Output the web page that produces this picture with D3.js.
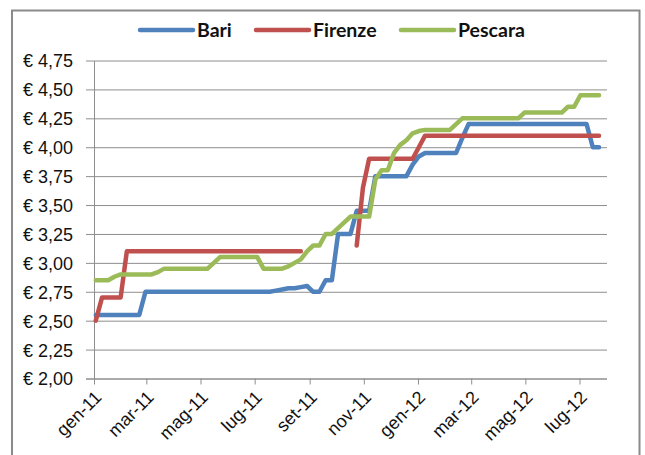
<!DOCTYPE html>
<html>
<head>
<meta charset="utf-8">
<script src="https://cdn.jsdelivr.net/npm/d3@7"></script>
<style>
  html, body { margin: 0; padding: 0; background: #fff; }
  svg { display: block; font-family: Lato, "Liberation Sans", sans-serif; }
</style>
</head>
<body>
<svg id="chart" width="645" height="455"></svg>
<script>
// Weekly fuel prices (€/litre), one reading per week from 3 Jan 2011
const firstWeek = new Date(2011, 0, 3);
const weekCount = 82;
const weeks = d3.range(weekCount).map(i => d3.timeDay.offset(firstWeek, 7 * i));

const bari = [
  2.55, 2.55, 2.55, 2.55, 2.55, 2.55, 2.55, 2.55, 2.75, 2.75,
  2.75, 2.75, 2.75, 2.75, 2.75, 2.75, 2.75, 2.75, 2.75, 2.75,
  2.75, 2.75, 2.75, 2.75, 2.75, 2.75, 2.75, 2.75, 2.75, 2.76,
  2.77, 2.78, 2.78, 2.79, 2.80, 2.75, 2.75, 2.85, 2.85, 3.25,
  3.25, 3.25, 3.45, 3.45, 3.45, 3.75, 3.75, 3.75, 3.75, 3.75,
  3.75, 3.85, 3.92, 3.95, 3.95, 3.95, 3.95, 3.95, 3.95, 4.08,
  4.20, 4.20, 4.20, 4.20, 4.20, 4.20, 4.20, 4.20, 4.20, 4.20,
  4.20, 4.20, 4.20, 4.20, 4.20, 4.20, 4.20, 4.20, 4.20, 4.20,
  4.00, 4.00
];

// Firenze has no readings from mid-August to late October 2011
const firenze = [
  2.50, 2.70, 2.70, 2.70, 2.70, 3.10, 3.10, 3.10, 3.10, 3.10,
  3.10, 3.10, 3.10, 3.10, 3.10, 3.10, 3.10, 3.10, 3.10, 3.10,
  3.10, 3.10, 3.10, 3.10, 3.10, 3.10, 3.10, 3.10, 3.10, 3.10,
  3.10, 3.10, 3.10, 3.10, null, null, null, null, null, null,
  null, null, 3.15, 3.65, 3.90, 3.90, 3.90, 3.90, 3.90, 3.90,
  3.90, 3.90, 4.00, 4.10, 4.10, 4.10, 4.10, 4.10, 4.10, 4.10,
  4.10, 4.10, 4.10, 4.10, 4.10, 4.10, 4.10, 4.10, 4.10, 4.10,
  4.10, 4.10, 4.10, 4.10, 4.10, 4.10, 4.10, 4.10, 4.10, 4.10,
  4.10, 4.10
];

const pescara = [
  2.85, 2.85, 2.85, 2.88, 2.90, 2.90, 2.90, 2.90, 2.90, 2.90,
  2.92, 2.95, 2.95, 2.95, 2.95, 2.95, 2.95, 2.95, 2.95, 3.00,
  3.05, 3.05, 3.05, 3.05, 3.05, 3.05, 3.05, 2.95, 2.95, 2.95,
  2.95, 2.97, 3.00, 3.03, 3.10, 3.15, 3.15, 3.25, 3.25, 3.30,
  3.35, 3.40, 3.40, 3.40, 3.40, 3.72, 3.80, 3.80, 3.95, 4.02,
  4.06, 4.12, 4.14, 4.15, 4.15, 4.15, 4.15, 4.15, 4.20, 4.25,
  4.25, 4.25, 4.25, 4.25, 4.25, 4.25, 4.25, 4.25, 4.25, 4.30,
  4.30, 4.30, 4.30, 4.30, 4.30, 4.30, 4.35, 4.35, 4.45, 4.45,
  4.45, 4.45
];

const seriesNames = ["Bari", "Firenze", "Pescara"];
const seriesColors = ["#4F81BD", "#C0504D", "#9BBB59"];

const priceTicks = [2.00, 2.25, 2.50, 2.75, 3.00, 3.25, 3.50, 3.75, 4.00, 4.25, 4.50, 4.75];
const monthTicks = [
  new Date(2011, 0, 1), new Date(2011, 2, 1), new Date(2011, 4, 1), new Date(2011, 6, 1),
  new Date(2011, 8, 1), new Date(2011, 10, 1), new Date(2012, 0, 1), new Date(2012, 2, 1),
  new Date(2012, 4, 1), new Date(2012, 6, 1)
];
const monthLabels = ["gen-11", "mar-11", "mag-11", "lug-11", "set-11", "nov-11", "gen-12", "mar-12", "mag-12", "lug-12"];

const svg = d3.select("#chart");
const gridColor = "#8e8e8e";

// Outer frame
svg.append("rect")
  .attr("x", 12).attr("y", 10.5).attr("width", 627.5).attr("height", 450)
  .attr("fill", "none").attr("stroke", "#8a8a8a").attr("stroke-width", 2);

const x = d3.scaleTime()
  .domain([new Date(2011, 0, 1), new Date(2012, 7, 1)])
  .range([94, 607]);
const y = d3.scaleLinear().domain([2, 4.75]).range([378.5, 60.5]);

// Horizontal gridlines with outward ticks on the price axis
const yAxis = d3.axisLeft(y)
  .tickValues(priceTicks)
  .tickSize(-(607 - 94))
  .tickSizeOuter(0)
  .tickFormat(v => "€ " + d3.format(".2f")(v).replace(".", ","));

const gy = svg.append("g").attr("transform", "translate(94,0)").call(yAxis);
gy.select(".domain").attr("stroke", gridColor);
gy.selectAll(".tick line").attr("stroke", gridColor).attr("x1", -8);
gy.selectAll(".tick text")
  .attr("font-size", 18).attr("fill", "#111").attr("x", -21).attr("dy", "0.36em");

// Date axis along the bottom
const xAxis = d3.axisBottom(x)
  .tickValues(monthTicks)
  .tickSize(6)
  .tickSizeOuter(0)
  .tickFormat((d, i) => monthLabels[i]);

const gx = svg.append("g").attr("transform", "translate(0,378.5)").call(xAxis);
gx.select(".domain").attr("stroke", gridColor).attr("d", "M86,0.5H607");
gx.selectAll(".tick line").attr("stroke", gridColor);
gx.selectAll(".tick text")
  .attr("font-size", 18).attr("fill", "#111")
  .attr("text-anchor", "end")
  .attr("y", 0).attr("dy", 0)
  .attr("transform", "translate(8,20) rotate(-45)");

// Price lines
const allSeries = [bari, firenze, pescara];
const line = d3.line()
  .defined(d => d.v != null)
  .x(d => x(d.t))
  .y(d => y(d.v));

allSeries.forEach((vals, s) => {
  const pts = vals.map((v, i) => ({ t: weeks[i], v }));
  svg.append("path")
    .datum(pts)
    .attr("fill", "none")
    .attr("stroke", seriesColors[s])
    .attr("stroke-width", 4.5)
    .attr("stroke-linejoin", "round")
    .attr("stroke-linecap", "round")
    .attr("d", line);
});

// Legend
const legendX = [140, 256, 401];
const legend = svg.append("g");
seriesNames.forEach((name, i) => {
  legend.append("line")
    .attr("x1", legendX[i]).attr("x2", legendX[i] + 53)
    .attr("y1", 30).attr("y2", 30)
    .attr("stroke", seriesColors[i]).attr("stroke-width", 4.5)
    .attr("stroke-linecap", "round");
  legend.append("text")
    .attr("x", legendX[i] + 57).attr("y", 37)
    .attr("font-size", 19.5).attr("font-weight", "bold").attr("fill", "#111")
    .text(name);
});
</script>
</body>
</html>
